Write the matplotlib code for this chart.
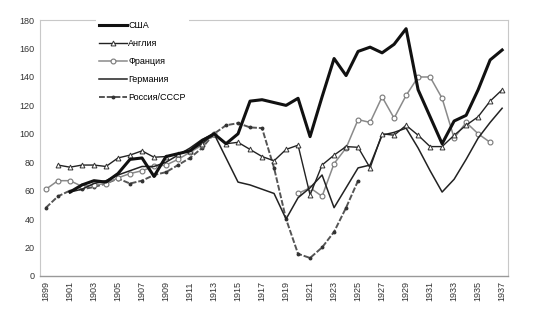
import numpy as np
import matplotlib
matplotlib.use("Agg")
import matplotlib.pyplot as plt

# данные (1913 = 100)
years = np.arange(1899, 1938)
nan = np.nan

usa = [nan, nan, 59, 64, 67, 66, 72, 82, 83, 70,
       84, 86, 88, 95, 100, 93, 100, 123, 124, 122,
       120, 125, 98, 126, 153, 141, 158, 161, 157, 163,
       174, 131, 112, 93, 109, 113, 131, 152, 159]

england = [nan, 78, 76.5, 78, 78, 77, 83, 85, 88, 83.5,
           84, 86, 88, 93, 100, 93, 94, 89, 84, 81,
           89, 92, 57, 78, 85, 91, 90.5, 76, 100, 99,
           106, 99, 91, 91, 99, 106, 112, 123, 131]

france = [61, 67, 67, 63, 64, 65, 69, 72, 74, 77,
          78, 82, 87, 92, 100, nan, nan, nan, nan, nan,
          nan, 58, 62, 56, 79, 90, 110, 108, 126, 111,
          127, 140, 140, 125, 97, 108, 100, 94, nan]

germany = [nan, nan, 59, 61, 65, 67, 71, 74, 77, 77,
           80, 85, 90, 96, 100, 83, 66, 64, 61, 58,
           40, 55, 62, 71, 48, 62, 76, 78, 99, 101,
           104, 90, 74, 59, 68, 82, 97, 108, 118]

russia = [48, 56, 60, 61, 62.5, 65, 68.5, 65, 67, 71,
          73, 78, 83, 90, 100, 106, 107.5, 104.5, 104, 76,
          40, 15.5, 12.6, 20, 31, 48, 67, nan, nan, nan,
          nan, nan, nan, nan, nan, nan, nan, nan, nan]

labels = ["США", "Англия", "Франция", "Германия", "Россия/СССР"]
yticks = np.arange(0, 181, 20)
xticks = np.arange(1899, 1938, 2)

plt.rcParams['font.family'] = ['Liberation Sans', 'DejaVu Sans']

fig = plt.figure(figsize=(5.4, 3.36), dpi=100)
ax = fig.add_axes([0.074, 0.179, 0.867, 0.761])

ax.plot(years, usa, color='#111111', lw=2.2, label=labels[0], zorder=5)
ax.plot(years, england, color='#222222', lw=1.0, marker='^', ms=3.5,
        mfc='white', mec='#333333', mew=0.7, label=labels[1], zorder=4)
ax.plot(years, france, color='#8a8a8a', lw=1.1, marker='o', ms=3.5,
        mfc='white', mec='#777777', mew=0.8, label=labels[2], zorder=3)
ax.plot(years, germany, color='#222222', lw=1.1, label=labels[3], zorder=3)
ax.plot(years, russia, color='#555555', lw=1.4, ls=(0, (3, 1)), marker='o',
        ms=1.8, mfc='#333333', mec='#333333', label=labels[4], zorder=2)

ax.set_xlim(1898.5, 1937.5)
ax.set_ylim(0, 180)
ax.set_yticks(yticks)
ax.set_xticks(xticks)
ax.set_xticklabels([str(y) for y in xticks], rotation=90)
ax.tick_params(axis='both', length=0, labelsize=6.5, colors='#333333', pad=4)

for s in ['left', 'top', 'right']:
    ax.spines[s].set_color('#c8c8c8')
    ax.spines[s].set_linewidth(0.8)
ax.spines['bottom'].set_color('#999999')
ax.spines['bottom'].set_linewidth(1.0)

leg = ax.legend(loc='upper left', bbox_to_anchor=(0.11, 1.025), fontsize=6.5,
                handlelength=3.1, handletextpad=0.2, labelspacing=1.0,
                frameon=True, borderpad=0.3)
leg.get_frame().set_facecolor('white')
leg.get_frame().set_edgecolor('none')
leg.get_frame().set_alpha(1)

fig.savefig("out.png", dpi=100)
